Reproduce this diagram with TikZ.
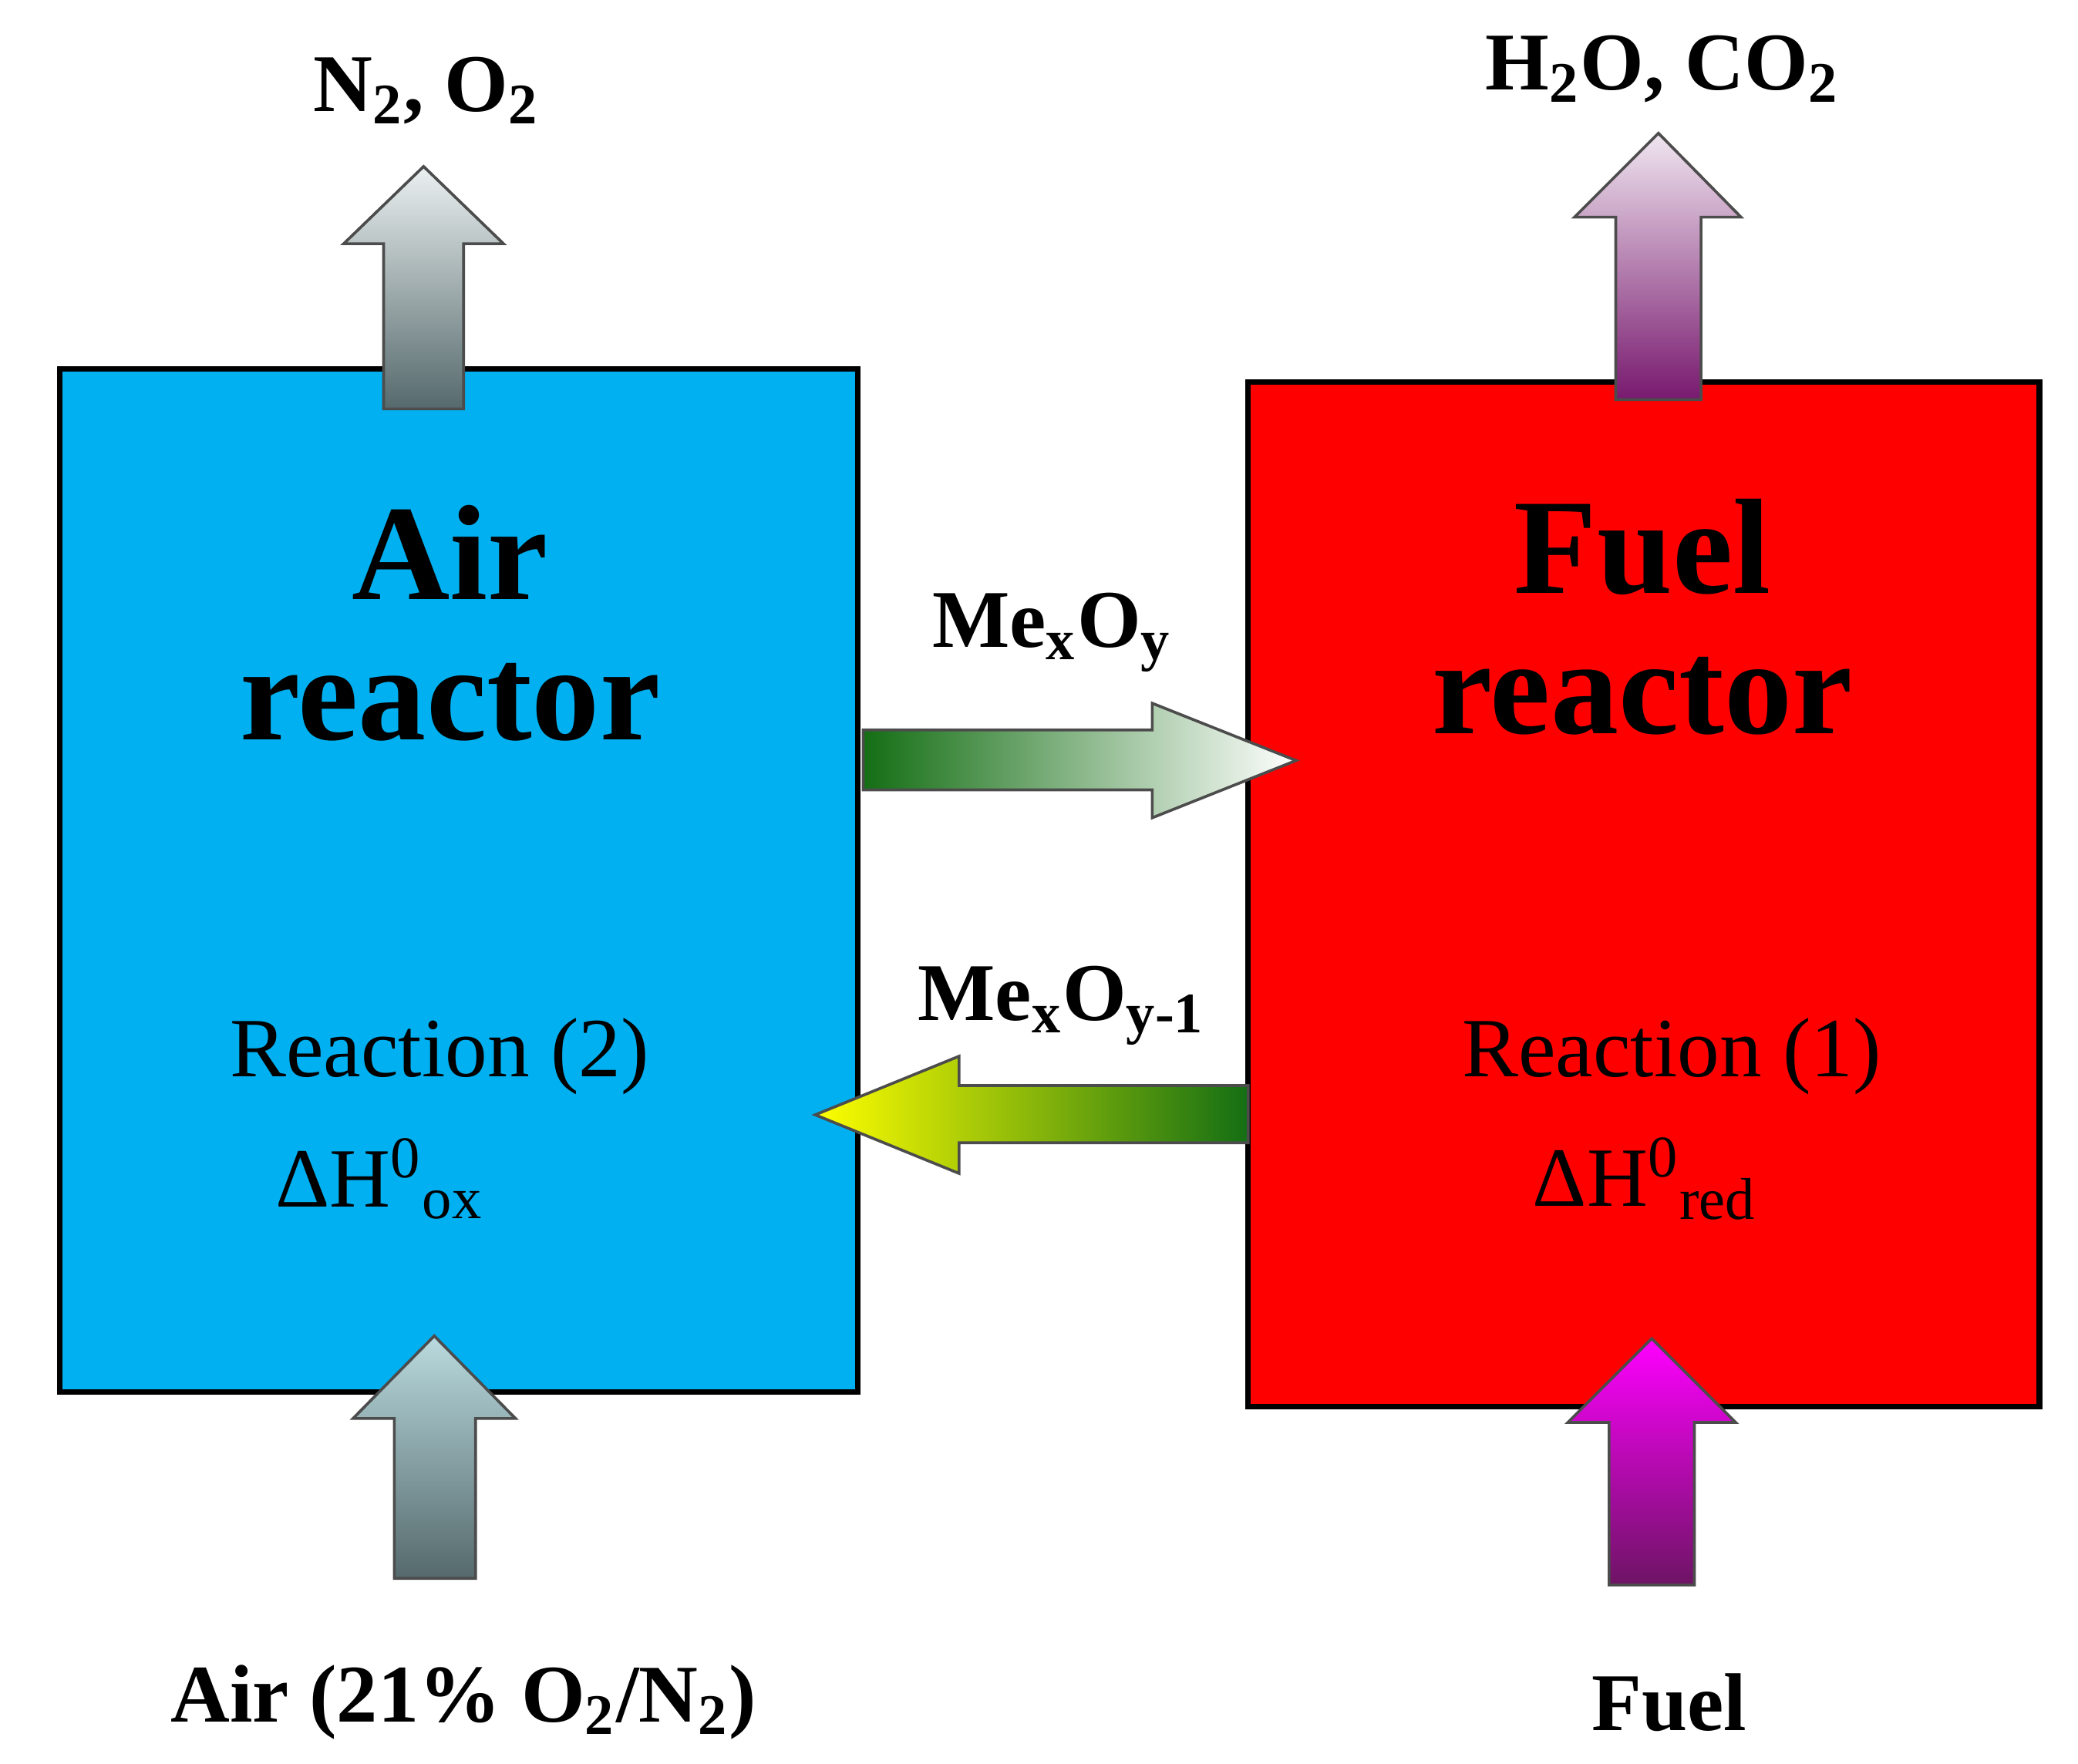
\documentclass[tikz,border=0pt]{standalone}
\usepackage{fontspec}
\setmainfont{Liberation Serif}
\begin{document}
\begin{tikzpicture}[x=0.01cm,y=-0.01cm,
  box/.style={draw=black,line width=1.2pt},
  arr/.style={draw=black!70,line width=0.6pt},
  lab/.style={font=\fontsize{17.5}{21}\selectfont\bfseries},
  big/.style={font=\fontsize{29}{34}\selectfont\bfseries,align=center},
  rx/.style={font=\fontsize{18}{21}\selectfont}]
\useasboundingbox (0,0) rectangle (1560,1324);
\coordinate (air) at (45,277);
\coordinate (fuel) at (937,287);
\draw[box,fill={rgb,255:red,0;green,176;blue,240}] (air) rectangle (644,1045);
\draw[box,fill=red] (fuel) rectangle (1531,1056);
% top-left
\shade[arr,top color={rgb,255:red,235;green,240;blue,240},bottom color={rgb,255:red,85;green,105;blue,108}]
 (288,307)--(288,183)--(258,183)--(318,125)--(378,183)--(348,183)--(348,307)--cycle;
% top-right
\shade[arr,top color={rgb,255:red,240;green,230;blue,240},bottom color={rgb,255:red,120;green,25;blue,110}]
 (1213,300)--(1213,163)--(1182,163)--(1245,100)--(1307,163)--(1277,163)--(1277,300)--cycle;
% bottom-left
\shade[arr,top color={rgb,255:red,185;green,218;blue,222},bottom color={rgb,255:red,85;green,105;blue,108}]
 (296,1185)--(296,1065)--(265,1065)--(326,1003)--(387,1065)--(357,1065)--(357,1185)--cycle;
% bottom-right
\shade[arr,top color={rgb,255:red,255;green,0;blue,255},bottom color={rgb,255:red,110;green,20;blue,100}]
 (1208,1190)--(1208,1068)--(1177,1068)--(1240,1005)--(1303,1068)--(1272,1068)--(1272,1190)--cycle;
% middle right
\shade[arr,left color={rgb,255:red,20;green,110;blue,20},right color=white]
 (648,548)--(865,548)--(865,528)--(973,571)--(865,614)--(865,593)--(648,593)--cycle;
% middle left
\shade[arr,left color=yellow,right color={rgb,255:red,20;green,110;blue,20}]
 (937,815)--(720,815)--(720,793)--(612,837)--(720,881)--(720,858)--(937,858)--cycle;
\node[lab] (t1) at (320,68) {N\textsubscript{2}, O\textsubscript{2}};
\node[lab] (t2) at (1248,52) {H\textsubscript{2}O, CO\textsubscript{2}};
\node[lab] (t3) at (348,1278) {Air (21\% O\textsubscript{2}/N\textsubscript{2})};
\node[lab] (t4) at (1253,1278) {Fuel};
\node[lab] (t5) at (790,475) {Me\textsubscript{x}O\textsubscript{y}};
\node[lab] (t6) at (797,755) {Me\textsubscript{x}O\textsubscript{y-1}};
\node[big] (a1) at (338,468) {Air\\[-4pt]reactor};
\node[big] (f1) at (1233,463) {Fuel\\[-4pt]reactor};
\node[rx] (r2) at (330,793) {Reaction (2)};
\node[rx] (r1) at (1255,793) {Reaction (1)};
\node[rx] (h2) at (285,885) {ΔH\textsuperscript{0}\textsubscript{ox}};
\node[rx] (h1) at (1235,885) {ΔH\textsuperscript{0}\textsubscript{red}};
\end{tikzpicture}
\end{document}
